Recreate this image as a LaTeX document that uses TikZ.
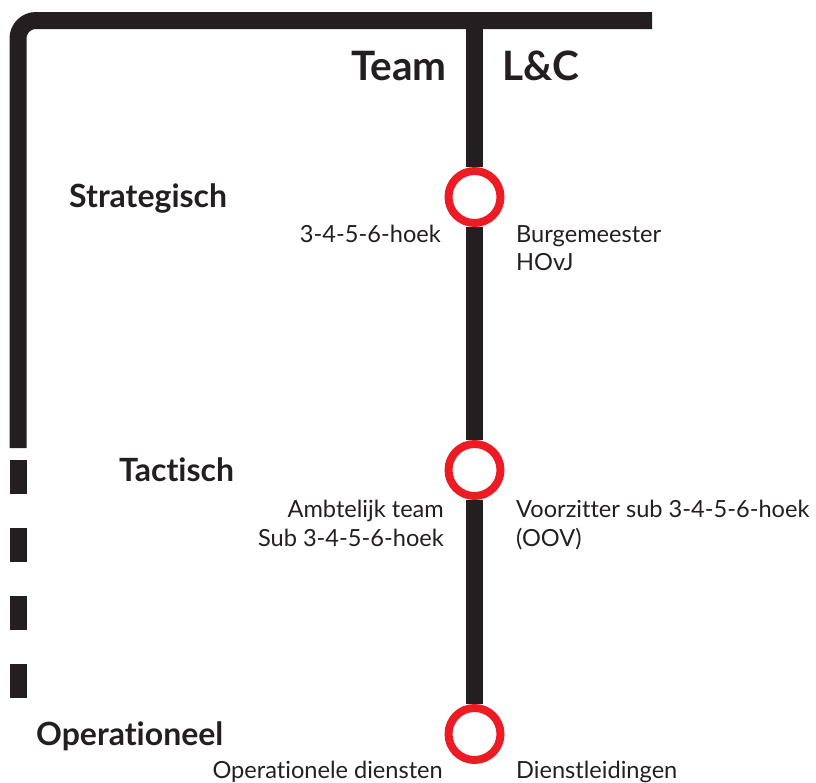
\documentclass[tikz,border=0pt]{standalone}
\usepackage{fontspec}
\setmainfont{Lato}[Ligatures={NoCommon}]
\definecolor{ink}{HTML}{231F20}
\definecolor{ringred}{HTML}{ED1C24}
\begin{document}
\begin{tikzpicture}[x=1pt,y=-1pt,
  bar/.style={draw=ink,line width=17pt},
  ring/.style={circle,draw=ringred,line width=8pt,fill=white,minimum size=52pt,inner sep=0pt},
  head/.style={font=\fontsize{32}{36}\selectfont\bfseries,text=ink,inner sep=0pt},
  title/.style={font=\fontsize{40.5}{46}\selectfont\bfseries,text=ink,inner sep=0pt},
  lbl/.style={font=\fontsize{23.6}{29}\selectfont,text=ink,inner sep=0pt}]
\useasboundingbox (0,0) rectangle (816,782);
% frame
\coordinate (lb) at (18,448);
\coordinate (tr) at (652,20.5);
\coordinate (mt) at (474.5,20.5);
\draw[bar,rounded corners=18pt] (lb) -- (18,20.5) -- (tr);
\coordinate (ds) at (18,460);
\coordinate (de) at (18,699);
\draw[bar,dash pattern=on 34pt off 34pt] (ds) -- (de);
% circles
\node[ring] (c1) at (474.5,197) {};
\node[ring] (c2) at (474.5,470) {};
\node[ring] (c3) at (474.5,734) {};
\draw[bar] (mt) -- (c1.north);
\draw[bar] (c1.south) -- (c2.north);
\draw[bar] (c2.south) -- (c3.north);
% titles
\node[title,anchor=base east] (team) at (447,80) {Team};
\node[title,anchor=base west] (lc) at (502,80) {L\&C};
\node[head,anchor=base west] (s) at (69,207) {Strategisch};
\node[head,anchor=base west] (t) at (119,481) {Tactisch};
\node[head,anchor=base west] (o) at (36,745) {Operationeel};
% labels
\node[lbl,anchor=base east] (l1) at (441,242) {3-4-5-6-hoek};
\node[lbl,anchor=base west] (r1a) at (516,242) {Burgemeester};
\node[lbl,anchor=base west] (r1b) at (516,270) {HOvJ};
\node[lbl,anchor=base east] (l2a) at (444,517) {Ambtelijk team};
\node[lbl,anchor=base east] (l2b) at (444,546) {Sub 3-4-5-6-hoek};
\node[lbl,anchor=base west] (r2a) at (516,517) {Voorzitter sub 3-4-5-6-hoek};
\node[lbl,anchor=base west] (r2b) at (516,546) {(OOV)};
\node[lbl,anchor=base east] (l3) at (443,778) {Operationele diensten};
\node[lbl,anchor=base west] (r3) at (516,778) {Dienstleidingen};
\end{tikzpicture}
\end{document}
